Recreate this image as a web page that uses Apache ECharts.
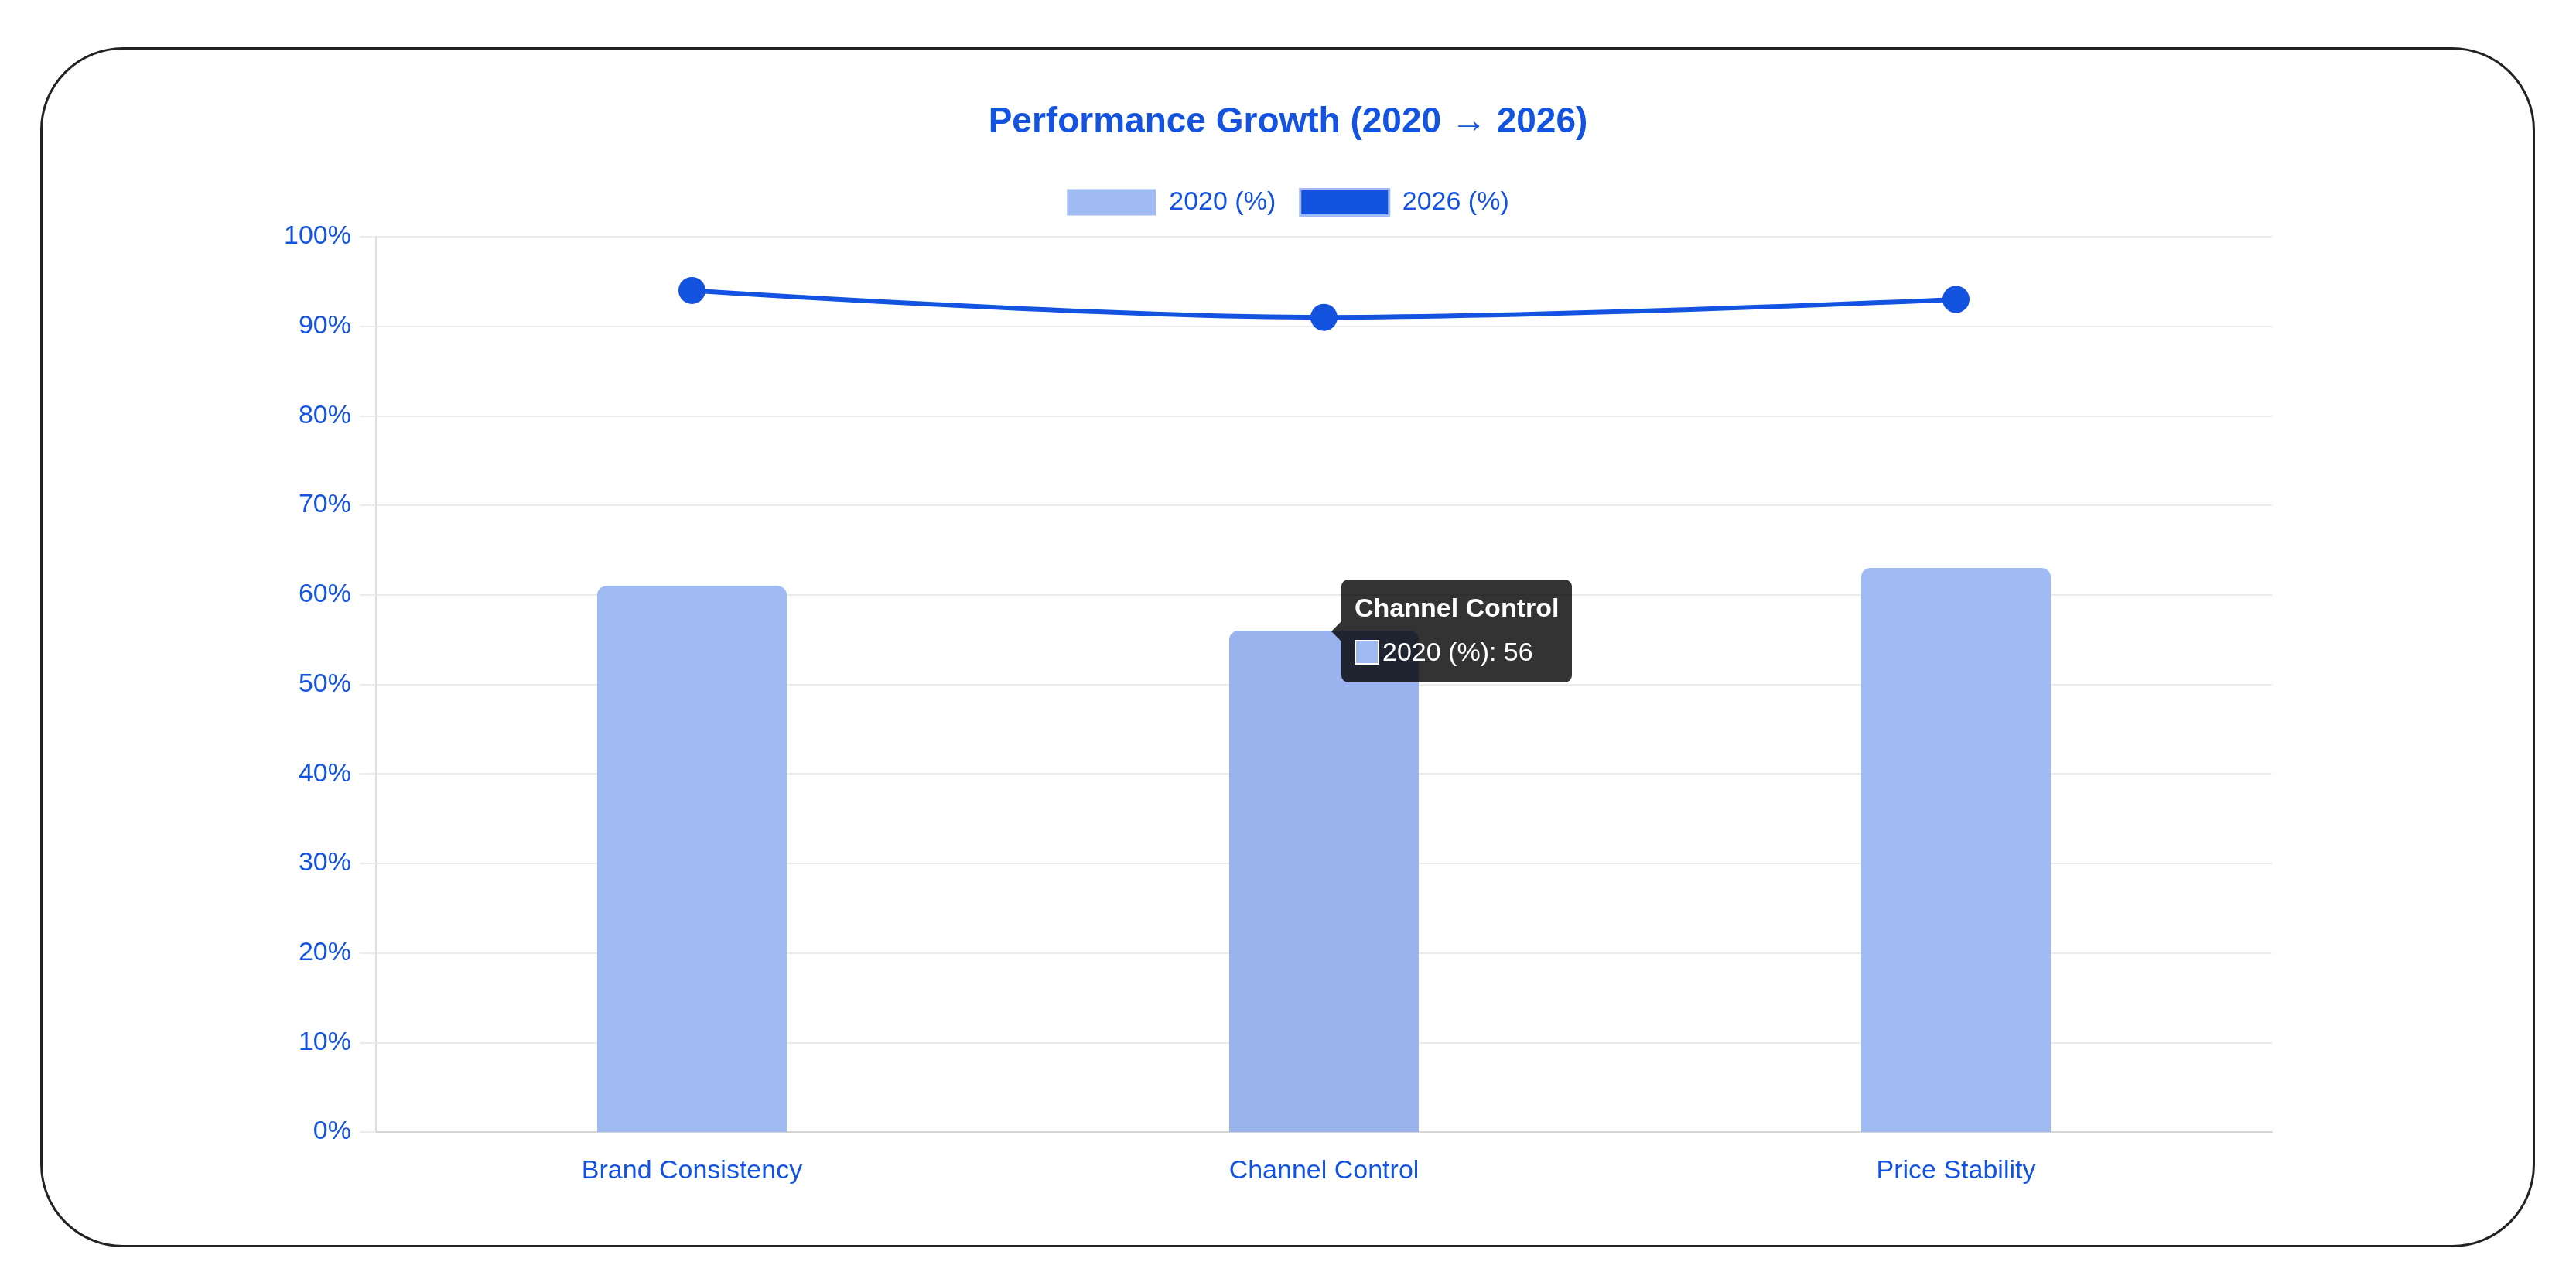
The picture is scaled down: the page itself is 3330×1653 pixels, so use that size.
<!DOCTYPE html>
<html lang="en">
<head>
<meta charset="UTF-8" />
<title>Performance Growth (2020 → 2026)</title>
<script src="https://cdn.jsdelivr.net/npm/echarts@6/dist/echarts.min.js"></script>
<style>
    html, body { margin: 0; padding: 0; background: #fff; }
    body { width: 3330px; height: 1653px; position: relative; overflow: hidden; }
    .card { position: absolute; left: 52px; top: 61px; width: 3225px; height: 1551px; box-sizing: border-box; border: 3px solid #222; border-radius: 107px; }
    #chart { position: absolute; left: 0; top: 0; width: 3330px; height: 1653px; }
    /* little arrow on the left of the tooltip */
    .tip-caret::before { content: ''; position: absolute; left: -13px; top: 50%; margin-top: -13px;
        border-top: 13px solid transparent; border-bottom: 13px solid transparent; border-right: 13px solid rgba(0,0,0,0.8); }
</style>
</head>
<body>
<div class="card"></div>
<div id="chart"></div>

<script>
    // data
    const categories = ['Brand Consistency', 'Channel Control', 'Price Stability'];
    const values2020 = [61, 56, 63];
    const values2026 = [94, 91, 93];
    const seriesNames = ['2020 (%)', '2026 (%)'];
    const hoverIndex = 1;

    const BLUE = '#1353e0';
    const BAR = '#a0baf3';
    const BAR_HOVER = '#9ab3ef';
    const FONT = '"Liberation Sans", Arial, Helvetica, sans-serif';

    const chart = echarts.init(document.getElementById('chart'));

    const option = {
        animation: false,
        title: {
            text: 'Performance Growth (2020 → 2026)',
            left: 'center',
            top: 130,
            textStyle: { fontSize: 46, fontWeight: 'bold', color: BLUE, fontFamily: FONT }
        },
        legend: {
            top: 238,
            itemWidth: 115,
            itemHeight: 34,
            itemGap: 30,
            textStyle: { fontSize: 34, color: BLUE, fontFamily: FONT, padding: [0, 0, 0, 12] },
            data: [
                { name: seriesNames[0], icon: 'rect' },
                { name: seriesNames[1], icon: 'rect', itemStyle: { borderColor: BAR, borderWidth: 3 } }
            ]
        },
        grid: { left: 486, right: 393, top: 306, bottom: 190, outerBoundsMode: 'none' },
        tooltip: {
            trigger: 'item',
            triggerOn: 'none',
            alwaysShowContent: true,
            className: 'tip-caret',
            backgroundColor: 'rgba(0,0,0,0.8)',
            borderWidth: 0,
            padding: [16, 17, 20, 17],
            transitionDuration: 0,
            textStyle: { color: '#fff', fontSize: 34, fontFamily: FONT },
            extraCssText: 'box-shadow:none;border-radius:9px;',
            position: function (point, params, dom, rect, size) {
                const cx = chart.convertToPixel({ xAxisIndex: 0 }, params.name);
                const cy = chart.convertToPixel({ yAxisIndex: 0 }, params.value);
                return [cx + 22, cy - size.contentSize[1] / 2];
            },
            formatter: function (p) {
                return '<div style="font-weight:bold;line-height:40px;margin-bottom:17px">' + p.name + '</div>' +
                    '<div style="line-height:40px"><span style="display:inline-block;width:28px;height:28px;background:' + BAR +
                    ';border:2px solid #fff;vertical-align:-5px;margin-right:4px"></span>' + p.seriesName + ': ' + p.value + '</div>';
            }
        },
        xAxis: {
            type: 'category',
            data: categories,
            axisLine: { lineStyle: { color: '#d4d4d4', width: 2 } },
            axisTick: { show: false },
            splitLine: { show: false },
            axisLabel: { color: BLUE, fontSize: 34, margin: 34, fontFamily: FONT }
        },
        yAxis: {
            type: 'value',
            min: 0,
            max: 100,
            interval: 10,
            axisLine: { show: true, lineStyle: { color: '#dedede', width: 2 } },
            axisTick: { show: true, length: 21, lineStyle: { color: '#ebebeb', width: 2 } },
            splitLine: { lineStyle: { color: '#ebebeb', width: 2 } },
            axisLabel: { formatter: '{value}%', color: BLUE, fontSize: 34, margin: 32, fontFamily: FONT }
        },
        series: [
            {
                name: seriesNames[0],
                type: 'bar',
                data: values2020,
                barWidth: '30%',
                itemStyle: { color: BAR, borderRadius: [12, 12, 0, 0] },
                emphasis: { itemStyle: { color: BAR_HOVER } },
                z: 2
            },
            {
                name: seriesNames[1],
                type: 'line',
                data: values2026,
                smooth: 0.35,
                symbol: 'circle',
                symbolSize: 35,
                lineStyle: { width: 6, color: BLUE },
                itemStyle: { color: BLUE },
                z: 3
            }
        ]
    };

    chart.setOption(option);

    // hovered bar + its tooltip, as in the screenshot
    chart.dispatchAction({ type: 'highlight', seriesIndex: 0, dataIndex: hoverIndex });
    chart.dispatchAction({ type: 'showTip', seriesIndex: 0, dataIndex: hoverIndex });
</script>
</body>
</html>
